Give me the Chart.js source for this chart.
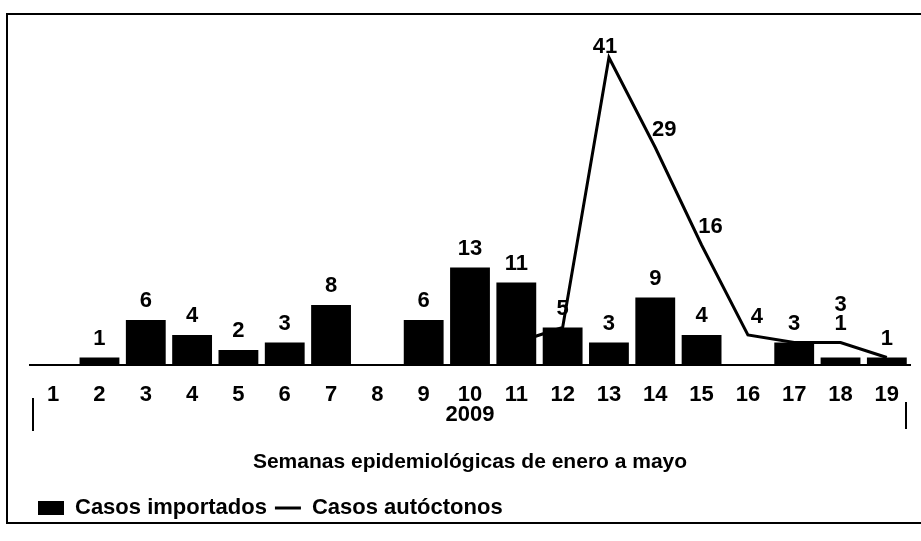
<!DOCTYPE html>
<html lang="es">
<head>
<meta charset="utf-8">
<script src="https://cdn.jsdelivr.net/npm/chart.js@4.4.0/dist/chart.umd.min.js"></script>
<style>
  html, body { margin: 0; padding: 0; background: #fff; }
  #contenedor { position: relative; width: 921px; height: 541px; }
</style>
</head>
<body>
<div id="contenedor"><canvas id="grafico"></canvas></div>
<script>
const semanas = ["1", "2", "3", "4", "5", "6", "7", "8", "9", "10",
    "11", "12", "13", "14", "15", "16", "17", "18", "19"];
const anio = "2009";
const casosImportados = [0, 1, 6, 4, 2, 3, 8, 0, 6, 13, 11, 5, 3, 9, 4, 0, 3, 1, 1];
const casosAutoctonos = [null, null, null, null, null, null, null, null, null, null,
    3, 5, 41, 29, 16, 4, 3, 3, 1];
const tituloEje = "Semanas epidemiológicas de enero a mayo";

const fuente = "'Liberation Sans', Arial, sans-serif";

// el año va debajo de la semana 10, como segunda línea de la etiqueta
const etiquetas = semanas.map(s => s === "10" ? [s, anio] : s);

// marco del recuadro escaneado
const marco = {
    id: "marco",
    beforeDraw(chart) {
        const ctx = chart.ctx;
        ctx.save();
        ctx.fillStyle = "#fff";
        ctx.fillRect(0, 0, chart.width, chart.height);
        ctx.strokeStyle = "#000";
        ctx.lineWidth = 2;
        ctx.strokeRect(7, 14, chart.width + 20, 509);
        ctx.restore();
    },
    afterDraw(chart) {
        const { ctx, chartArea } = chart;
        ctx.save();
        ctx.strokeStyle = "#000";
        ctx.lineWidth = 2;
        ctx.beginPath();
        ctx.moveTo(chartArea.left + 3, chartArea.bottom + 33);
        ctx.lineTo(chartArea.left + 3, chartArea.bottom + 66);
        ctx.moveTo(chartArea.right - 4, chartArea.bottom + 37);
        ctx.lineTo(chartArea.right - 4, chartArea.bottom + 64);
        ctx.stroke();
        ctx.restore();
    }
};

// valores encima de barras y de la línea
const etiquetasValores = {
    id: "etiquetasValores",
    afterDatasetsDraw(chart) {
        const ctx = chart.ctx;
        const barras = chart.getDatasetMeta(0).data;
        const puntos = chart.getDatasetMeta(1).data;
        ctx.save();
        ctx.font = "bold 22px " + fuente;
        ctx.fillStyle = "#000";
        ctx.textAlign = "center";
        ctx.textBaseline = "alphabetic";
        casosImportados.forEach((v, i) => {
            const auto = casosAutoctonos[i];
            const cerca = auto !== null && auto >= v && auto - v <= 3;
            let yBarra = barras[i].y;
            if (cerca) yBarra = Math.min(yBarra, puntos[i].y);
            if (v > 0) ctx.fillText(v, barras[i].x, yBarra - 13);
            if (auto === null || auto <= v) return;
            const p = puntos[i];
            if (cerca) {
                ctx.fillText(auto, p.x, yBarra - 13 - 19);
                return;
            }
            const prev = casosAutoctonos[i - 1] ?? 0;
            const next = casosAutoctonos[i + 1] ?? 0;
            if (auto > prev && auto > next) {
                ctx.fillText(auto, p.x - 4, p.y - 5);
            } else {
                ctx.fillText(auto, p.x + 9, p.y - 12);
            }
        });
        ctx.restore();
    }
};

const ctx = document.getElementById("grafico").getContext("2d");

new Chart(ctx, {
    data: {
        labels: etiquetas,
        datasets: [
            {
                type: "bar",
                label: "Casos importados",
                data: casosImportados,
                backgroundColor: "#000",
                borderWidth: 0,
                barPercentage: 0.86,
                categoryPercentage: 1,
                pointStyle: "rect",
                order: 1
            },
            {
                type: "line",
                label: "Casos autóctonos",
                data: casosAutoctonos,
                borderColor: "#000",
                backgroundColor: "#000",
                borderWidth: 3,
                pointRadius: 0,
                pointStyle: "line",
                tension: 0,
                order: 2
            }
        ]
    },
    options: {
        responsive: true,
        maintainAspectRatio: false,
        animation: false,
        layout: {
            padding: { left: 30, right: 11, top: 20, bottom: 12 }
        },
        plugins: {
            tooltip: { enabled: false },
            legend: {
                position: "bottom",
                align: "start",
                labels: {
                    usePointStyle: true,
                    pointStyleWidth: 26,
                    boxHeight: 14,
                    color: "#000",
                    font: { family: fuente, size: 22, weight: "bold" },
                    padding: 8
                }
            }
        },
        scales: {
            x: {
                grid: { display: false },
                border: { display: true, color: "#000", width: 2 },
                ticks: {
                    color: "#000",
                    font: { family: fuente, size: 22, weight: "bold", lineHeight: 0.95 },
                    padding: 11,
                    maxRotation: 0,
                    autoSkip: false
                },
                title: {
                    display: true,
                    text: tituloEje,
                    color: "#000",
                    font: { family: fuente, size: 21, weight: "bold" },
                    padding: { top: 13, bottom: 14 }
                }
            },
            y: {
                display: false,
                min: 0,
                max: 46
            }
        }
    },
    plugins: [marco, etiquetasValores]
});
</script>
</body>
</html>
